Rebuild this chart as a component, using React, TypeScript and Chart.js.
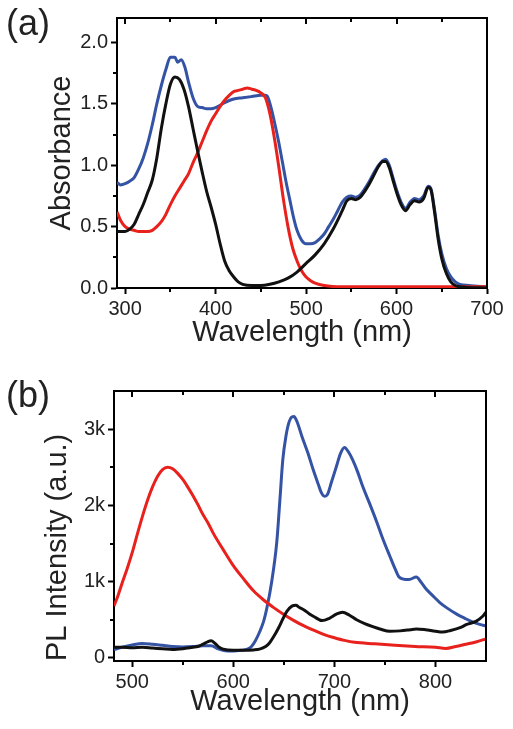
import React, { useEffect, useRef } from 'react';
import { Chart, registerables } from 'chart.js';

Chart.register(...registerables);

const FONT = "'Liberation Sans', Arial, Helvetica, sans-serif";
const TEXT = '#222';
const BLACK = '#111111';
const RED = '#e8211c';
const BLUE = '#3553a5';

// ---------- (a) Absorbance ----------
const absXTicks = [300, 400, 500, 600, 700];
const absXMinor = [350, 450, 550, 650];
const absYTicks = [0, 0.5, 1.0, 1.5, 2.0];
const absYMinor = [0.25, 0.75, 1.25, 1.75];

const absBlackX = [291, 300, 305, 310, 315, 320, 325, 330, 335, 340, 345, 350, 355, 360, 365, 370, 375, 380, 385, 390, 395, 400, 405, 410, 415, 420, 425, 430, 440, 450, 460, 470, 480, 490, 500, 510, 520, 530, 540, 545, 550, 555, 560, 565, 570, 575, 580, 585, 588, 592, 596, 600, 605, 610, 615, 620, 625, 630, 635, 638, 642, 646, 650, 655, 660, 665, 670, 700];
const absBlackY = [0.46, 0.46, 0.48, 0.52, 0.6, 0.68, 0.78, 0.88, 1.06, 1.3, 1.5, 1.66, 1.72, 1.7, 1.62, 1.48, 1.3, 1.12, 0.95, 0.79, 0.66, 0.52, 0.36, 0.22, 0.14, 0.09, 0.05, 0.03, 0.02, 0.02, 0.03, 0.05, 0.08, 0.13, 0.2, 0.27, 0.36, 0.48, 0.63, 0.71, 0.73, 0.72, 0.74, 0.79, 0.85, 0.92, 0.99, 1.03, 1.03, 0.98, 0.88, 0.78, 0.68, 0.63, 0.68, 0.71, 0.7, 0.73, 0.82, 0.8, 0.62, 0.4, 0.24, 0.12, 0.05, 0.02, 0.01, 0.0];

const absRedX = [291, 295, 300, 305, 310, 315, 320, 325, 330, 335, 340, 345, 350, 355, 360, 365, 370, 375, 380, 385, 390, 395, 400, 405, 410, 415, 420, 425, 430, 435, 440, 445, 450, 455, 460, 465, 470, 475, 480, 485, 490, 495, 500, 505, 510, 520, 540, 700];
const absRedY = [0.62, 0.55, 0.5, 0.48, 0.47, 0.46, 0.46, 0.46, 0.47, 0.5, 0.54, 0.6, 0.68, 0.75, 0.81, 0.87, 0.93, 1.02, 1.1, 1.19, 1.28, 1.36, 1.42, 1.48, 1.53, 1.57, 1.6, 1.61, 1.62, 1.63, 1.62, 1.61, 1.59, 1.55, 1.42, 1.22, 0.98, 0.72, 0.5, 0.33, 0.22, 0.14, 0.09, 0.06, 0.04, 0.02, 0.01, 0.01];

const absBlueX = [291, 295, 300, 305, 310, 315, 320, 325, 330, 335, 340, 345, 350, 355, 358, 362, 366, 370, 375, 380, 385, 390, 395, 400, 410, 420, 430, 440, 450, 455, 458, 462, 466, 470, 474, 478, 482, 486, 490, 495, 500, 505, 510, 515, 520, 525, 530, 535, 540, 545, 550, 555, 560, 565, 570, 575, 580, 585, 588, 592, 596, 600, 605, 610, 615, 620, 625, 630, 635, 638, 642, 646, 650, 655, 660, 665, 670, 680, 700];
const absBlueY = [0.86, 0.84, 0.85, 0.87, 0.9, 0.97, 1.06, 1.18, 1.33, 1.5, 1.65, 1.78, 1.88, 1.88, 1.84, 1.86, 1.8, 1.68, 1.55, 1.48, 1.47, 1.46, 1.46, 1.47, 1.51, 1.54, 1.55, 1.56, 1.57, 1.57, 1.55, 1.45, 1.32, 1.18, 1.02, 0.86, 0.72, 0.58, 0.47, 0.39, 0.36, 0.36, 0.37, 0.4, 0.44, 0.5, 0.56, 0.63, 0.7, 0.74, 0.75, 0.74, 0.76, 0.81, 0.87, 0.94, 1.0, 1.04, 1.05, 1.0, 0.9, 0.8, 0.7, 0.65, 0.7, 0.73, 0.72, 0.75, 0.83, 0.81, 0.64, 0.43, 0.28, 0.16, 0.09, 0.05, 0.03, 0.02, 0.01];

// ---------- (b) PL Intensity ----------
const plXTicks = [500, 600, 700, 800];
const plXMinor = [550, 650, 750];
const plYTicks = [0, 1000, 2000, 3000];
const plYMinor = [500, 1500, 2500];

const plRedX = [482, 486, 490, 495, 500, 505, 510, 515, 520, 525, 530, 535, 540, 545, 550, 555, 560, 565, 570, 575, 580, 590, 600, 610, 620, 630, 640, 650, 660, 670, 680, 690, 700, 710, 720, 740, 760, 780, 800, 810, 820, 830, 840, 850];
const plRedY = [680, 820, 980, 1170, 1380, 1620, 1850, 2060, 2240, 2380, 2470, 2500, 2480, 2420, 2340, 2240, 2130, 2010, 1880, 1770, 1640, 1420, 1210, 1040, 880, 760, 660, 570, 490, 420, 360, 305, 265, 230, 205, 185, 165, 150, 140, 125, 150, 180, 210, 250];

const plBlackX = [482, 490, 500, 510, 520, 530, 540, 550, 560, 565, 570, 575, 578, 582, 586, 590, 600, 610, 620, 626, 632, 636, 640, 645, 649, 653, 658, 662, 665, 670, 675, 680, 688, 695, 702, 708, 715, 722, 730, 738, 745, 755, 765, 775, 781, 790, 800, 807, 815, 825, 831, 840, 847, 850];
const plBlackY = [140, 140, 135, 140, 130, 120, 110, 120, 140, 150, 180, 215, 225, 190, 140, 115, 100, 100, 105, 115, 150, 200, 280, 400, 510, 610, 680, 690, 665, 630, 580, 540, 490, 520, 575, 600, 560, 500, 450, 410, 380, 350, 355, 370, 380, 370, 350, 340, 360, 400, 440, 480, 550, 600];

const plBlueX = [482, 490, 500, 510, 520, 530, 540, 550, 560, 570, 578, 585, 592, 600, 608, 614, 618, 622, 626, 630, 633, 638, 643, 646, 649, 652, 655, 658, 660, 663, 668, 674, 679, 684, 687, 690, 693, 697, 702, 706, 710, 714, 718, 723, 728, 735, 742, 748, 755, 760, 764, 770, 774, 781, 786, 791, 797, 804, 812, 821, 829, 837, 844, 850];
const plBlueY = [110, 140, 170, 190, 180, 165, 150, 145, 150, 160, 160, 120, 95, 90, 100, 115, 150, 230, 340, 480, 640, 1000, 1516, 2050, 2600, 2900, 3085, 3160, 3165, 3100, 2900, 2680, 2470, 2280, 2170, 2120, 2140, 2300, 2510, 2680, 2760, 2700, 2600, 2440, 2250, 2020, 1780, 1560, 1330, 1170, 1060, 1030, 1030, 1060, 990, 900, 820, 730, 650, 575, 520, 470, 440, 420];

const pts = (xs: number[], ys: number[]) => xs.map((x, i) => ({ x, y: ys[i] }));

const line = (label: string, data: any[], color: string) => ({
  label,
  data,
  borderColor: color,
  backgroundColor: color,
  borderWidth: 3,
  pointRadius: 0,
  fill: false,
  cubicInterpolationMode: 'monotone' as const,
});

function framePlugin(id: string, xMajor: number[], xMinor: number[], yMinor: number[], panel: string, panelBaseline: number) {
  return {
    id,
    afterDraw(chart: any) {
      const { ctx, chartArea } = chart;
      const xs = chart.scales.x;
      const ys = chart.scales.y;
      const { left, right, top, bottom } = chartArea;
      ctx.save();
      ctx.strokeStyle = '#000';
      ctx.lineWidth = 2;
      ctx.beginPath();
      ctx.moveTo(left - 1, top);
      ctx.lineTo(right, top);
      ctx.lineTo(right, bottom + 1);
      ctx.stroke();
      // top inward ticks
      ctx.beginPath();
      xMajor.forEach((v) => {
        const px = Math.round(xs.getPixelForValue(v));
        ctx.moveTo(px, top);
        ctx.lineTo(px, top + 6);
      });
      xMinor.forEach((v) => {
        const px = Math.round(xs.getPixelForValue(v));
        ctx.moveTo(px, top);
        ctx.lineTo(px, top + 4);
        ctx.moveTo(px, bottom);
        ctx.lineTo(px, bottom + 4);
      });
      yMinor.forEach((v) => {
        const py = Math.round(ys.getPixelForValue(v));
        ctx.moveTo(left, py);
        ctx.lineTo(left - 4, py);
      });
      ctx.stroke();
      ctx.fillStyle = TEXT;
      ctx.font = `36px ${FONT}`;
      ctx.textBaseline = 'alphabetic';
      ctx.textAlign = 'left';
      ctx.fillText(panel, 6, panelBaseline);
      ctx.restore();
    },
  };
}

function makeConfig(opts: {
  datasets: any[];
  xMin: number; xMax: number; yMin: number; yMax: number;
  xTicks: number[]; yTicks: number[];
  xMinor: number[]; yMinor: number[];
  yFmt: (v: number) => string;
  yTitle: string; yTitlePad: number; yTitleAlign: 'start' | 'center';
  yWidth: number; xHeight: number;
  padding: { left: number; right: number; top: number; bottom: number };
  panel: string; panelBaseline: number; id: string;
}) {
  const tickFont = { family: FONT, size: 20 };
  const titleFont = { family: FONT, size: 29 };
  return {
    type: 'line',
    data: { datasets: opts.datasets },
    options: {
      animation: false,
      responsive: false,
      maintainAspectRatio: false,
      parsing: false,
      normalized: true,
      layout: { padding: opts.padding },
      plugins: { legend: { display: false }, tooltip: { enabled: false } },
      scales: {
        x: {
          type: 'linear',
          min: opts.xMin,
          max: opts.xMax,
          afterBuildTicks: (s: any) => { s.ticks = opts.xTicks.map((v) => ({ value: v })); },
          afterFit: (s: any) => { s.height = opts.xHeight; },
          ticks: { font: tickFont, color: TEXT, padding: 3, maxRotation: 0, autoSkip: false, callback: (v: any) => String(v) },
          grid: { display: true, drawOnChartArea: false, drawTicks: true, tickLength: 6, tickWidth: 2, tickColor: '#000' },
          border: { display: true, color: '#000', width: 2 },
          title: { display: true, text: 'Wavelength (nm)', font: titleFont, color: TEXT, padding: { top: 0, bottom: 9.6 } },
        },
        y: {
          type: 'linear',
          min: opts.yMin,
          max: opts.yMax,
          afterBuildTicks: (s: any) => { s.ticks = opts.yTicks.map((v) => ({ value: v })); },
          afterFit: (s: any) => { s.width = opts.yWidth; },
          ticks: { font: tickFont, color: TEXT, padding: 3, autoSkip: false, callback: (v: any) => opts.yFmt(Number(v)) },
          grid: { display: true, drawOnChartArea: false, drawTicks: true, tickLength: 6, tickWidth: 2, tickColor: '#000' },
          border: { display: true, color: '#000', width: 2 },
          title: { display: true, text: opts.yTitle, align: opts.yTitleAlign, font: titleFont, color: TEXT, padding: { top: opts.yTitlePad, bottom: 0 } },
        },
      },
    },
    plugins: [framePlugin(opts.id, opts.xTicks, opts.xMinor, opts.yMinor, opts.panel, opts.panelBaseline)],
  };
}

function ChartCanvas({ config, top, height }: { config: any; top: number; height: number }) {
  const ref = useRef<HTMLCanvasElement>(null);
  useEffect(() => {
    const chart = new Chart(ref.current as HTMLCanvasElement, config);
    return () => chart.destroy();
  }, []);
  return (
    <canvas
      ref={ref}
      width={513}
      height={height}
      style={{ position: 'absolute', left: 0, top, width: 513, height, display: 'block' }}
    />
  );
}

export default function App() {
  const configA = makeConfig({
    id: 'frameA',
    datasets: [
      line('Black', pts(absBlackX, absBlackY), BLACK),
      line('Red', pts(absRedX, absRedY), RED),
      line('Blue', pts(absBlueX, absBlueY), BLUE),
    ],
    xMin: 291, xMax: 700, yMin: 0, yMax: 2.2,
    xTicks: absXTicks, yTicks: absYTicks, xMinor: absXMinor, yMinor: absYMinor,
    yFmt: (v) => v.toFixed(1),
    yTitle: 'Absorbance', yTitlePad: 44.6, yTitleAlign: 'center',
    yWidth: 117, xHeight: 72,
    padding: { left: 0, right: 26, top: 18, bottom: 0 },
    panel: '(a)', panelBaseline: 35,
  });
  const configB = makeConfig({
    id: 'frameB',
    datasets: [
      line('Black', pts(plBlackX, plBlackY), BLACK),
      line('Red', pts(plRedX, plRedY), RED),
      line('Blue', pts(plBlueX, plBlueY), BLUE),
    ],
    xMin: 482, xMax: 850, yMin: -40, yMax: 3500,
    xTicks: plXTicks, yTicks: plYTicks, xMinor: plXMinor, yMinor: plYMinor,
    yFmt: (v) => (v === 0 ? '0' : `${v / 1000}k`),
    yTitle: 'PL Intensity (a.u.)', yTitlePad: 40.6, yTitleAlign: 'start',
    yWidth: 114, xHeight: 68,
    padding: { left: 0, right: 27, top: 31, bottom: 0 },
    panel: '(b)', panelBaseline: 47,
  });
  return (
    <div style={{ position: 'absolute', left: 0, top: 0, width: 513, height: 729, background: '#fff' }}>
      <ChartCanvas config={configA} top={0} height={360} />
      <ChartCanvas config={configB} top={360} height={369} />
    </div>
  );
}
